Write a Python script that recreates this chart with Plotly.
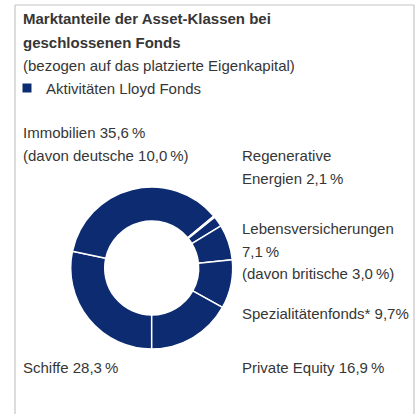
import plotly.graph_objects as go

W, H = 420, 414

# Data
categories = ["Schiffe", "Immobilien", "Rest", "Regenerative Energien",
              "Lebensversicherungen", "Spezialitätenfonds*", "Private Equity"]
shares = [28.3, 35.6, 0.3, 2.1, 7.1, 9.7, 16.9]
slice_colors = ["#0d2b70", "#0d2b70", "#ffffff", "#0d2b70", "#0d2b70", "#0d2b70", "#0d2b70"]

title_lines = ["Marktanteile der Asset-Klassen bei", "geschlossenen Fonds"]
subtitle = "(bezogen auf das platzierte Eigenkapital)"
legend_text = "Aktivitäten Lloyd Fonds"

# label texts with pixel anchors (x, y-center)
labels = [
    ("Immobilien 35,6\u2009%", 22, 132),
    ("(davon deutsche 10,0\u2009%)", 22, 155),
    ("Regenerative", 241, 155),
    ("Energien 2,1\u2009%", 241, 178),
    ("Lebensversicherungen", 241, 228),
    ("7,1\u2009%", 241, 251),
    ("(davon britische 3,0\u2009%)", 241, 273),
    ("Spezialitätenfonds* 9,7%", 241, 313),
    ("Schiffe 28,3\u2009%", 22, 367),
    ("Private Equity 16,9\u2009%", 241, 367),
]

FONT = "Liberation Sans"
TXT = "#363636"
NAVY = "#0d2b70"

def px(x):
    return x / W

def py(y):
    return 1 - y / H

cx, cy, r = 151.7, 268.0, 81.0

fig = go.Figure(go.Pie(
    labels=categories,
    values=shares,
    sort=False,
    direction="clockwise",
    rotation=180,
    hole=0.58,
    marker=dict(colors=slice_colors, line=dict(color="white", width=1.5)),
    textinfo="none",
    hoverinfo="label+value",
    showlegend=False,
    domain=dict(x=[px(cx - r), px(cx + r)], y=[py(cy + r), py(cy - r)]),
))

ann = []
ann.append(dict(text="<b>" + title_lines[0] + "</b>", x=px(21), y=py(19)))
ann.append(dict(text="<b>" + title_lines[1] + "</b>", x=px(21), y=py(42)))
ann.append(dict(text=subtitle, x=px(21), y=py(65)))
ann.append(dict(text=legend_text, x=px(44), y=py(88)))
for t, x, y in labels:
    ann.append(dict(text=t, x=px(x - 1), y=py(y)))
for a in ann:
    a.update(xref="paper", yref="paper", xanchor="left", yanchor="middle",
             showarrow=False, font=dict(family=FONT, size=15, color=TXT))

shapes = [
    dict(type="rect", xref="paper", yref="paper", x0=px(22.5), x1=px(31.5),
         y0=py(92.5), y1=py(83.5), fillcolor=NAVY, line=dict(width=0)),
    dict(type="line", xref="paper", yref="paper", x0=px(15), x1=px(15), y0=py(5), y1=py(414),
         line=dict(color="#c4c4c4", width=1.2)),
    dict(type="line", xref="paper", yref="paper", x0=px(15), x1=px(414), y0=py(5), y1=py(5),
         line=dict(color="#c4c4c4", width=1.2)),
    dict(type="line", xref="paper", yref="paper", x0=px(414), x1=px(414), y0=py(5), y1=py(414),
         line=dict(color="#c4c4c4", width=1.2)),
]

fig.update_layout(
    width=W, height=H, autosize=False,
    margin=dict(l=0, r=0, t=0, b=0),
    paper_bgcolor="white", plot_bgcolor="white",
    annotations=ann, shapes=shapes,
)

fig.write_html("out.html", config={"displayModeBar": False},
               post_script="document.body.style.margin='0';document.body.style.overflow='hidden';")
